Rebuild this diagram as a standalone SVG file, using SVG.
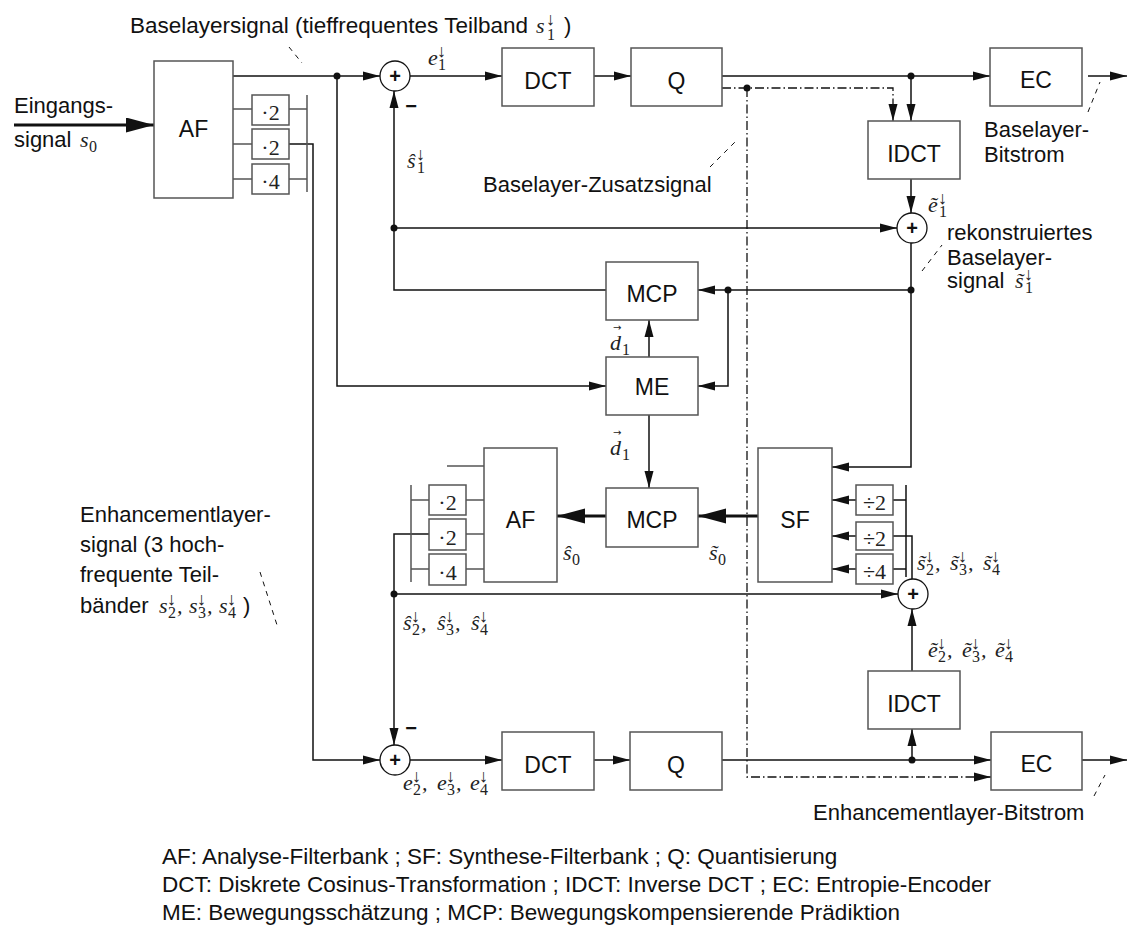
<svg xmlns="http://www.w3.org/2000/svg" width="1128" height="931" viewBox="0 0 1128 931">
<defs>
<style>
.t{font-family:"Liberation Sans",Arial,sans-serif;font-size:22px;fill:#111}
.b{font-family:"Liberation Sans",Arial,sans-serif;font-size:23px;fill:#111;text-anchor:middle}
.lg{font-family:"Liberation Sans",Arial,sans-serif;font-size:22.5px;fill:#111}
.mi{font-family:"Liberation Serif","Times New Roman",serif;font-style:italic;font-size:22px;fill:#222}
.sb{font-family:"Liberation Serif","Times New Roman",serif;font-size:16px;fill:#222}
.ar{font-family:"Liberation Serif","DejaVu Serif",serif;font-size:18px;fill:#222}
.va{font-family:"DejaVu Sans",sans-serif;font-size:10px;fill:#222}
.sm{font-family:"Liberation Serif","Times New Roman",serif;font-size:22px;fill:#222;text-anchor:middle}
.bx{fill:#fff;stroke:#555;stroke-width:1.5}
.sx{fill:#fff;stroke:#111;stroke-width:1.3}
.c{fill:none;stroke:#111;stroke-width:1.5}
.k{fill:none;stroke:#111;stroke-width:3}
.g{fill:none;stroke:#555;stroke-width:1.5}
.dd{fill:none;stroke:#111;stroke-width:1.3;stroke-dasharray:9 3 1.5 3}
.ld{fill:none;stroke:#111;stroke-width:1;stroke-dasharray:5 5}
.dot{fill:#111}
.pl{font-family:"Liberation Sans",Arial,sans-serif;font-size:20px;font-weight:bold;text-anchor:middle;fill:#111}
</style>
<marker id="a" markerUnits="userSpaceOnUse" markerWidth="18" markerHeight="10" refX="17" refY="5" orient="auto"><path d="M0,0.5 L17,5 L0,9.5 z" fill="#111"/></marker>
<marker id="A" markerUnits="userSpaceOnUse" markerWidth="30" markerHeight="16" refX="28" refY="7.5" orient="auto"><path d="M0,0 L28,7.5 L0,15 z" fill="#111"/></marker>
</defs>
<rect width="1128" height="931" fill="#fff"/>

<g id="connectors">
<path class="k" d="M14,125 H154" marker-end="url(#A)"/>
<path class="c" d="M233,76 H380" marker-end="url(#a)"/>
<path class="c" d="M410,76 H502" marker-end="url(#a)"/>
<path class="c" d="M594,76 H631" marker-end="url(#a)"/>
<path class="c" d="M722,76 H990" marker-end="url(#a)"/>
<path class="c" d="M1088,76 H1127" marker-end="url(#a)"/>
<path class="c" d="M911,76 V121" marker-end="url(#a)"/>
<path class="dd" d="M722,88 H893 V121" marker-end="url(#a)"/>
<path class="dd" d="M747,88 V777 H991" marker-end="url(#a)"/>
<path class="c" d="M911,179 V213" marker-end="url(#a)"/>
<path class="c" d="M911,243 V467 H832" marker-end="url(#a)"/>
<path class="c" d="M911,290 H698" marker-end="url(#a)"/>
<path class="c" d="M728,290 V386 H698" marker-end="url(#a)"/>
<path class="c" d="M337,76 V386 H606" marker-end="url(#a)"/>
<path class="c" d="M606,290 H394 V91" marker-end="url(#a)"/>
<path class="c" d="M394,228 H897" marker-end="url(#a)"/>
<path class="c" d="M649,357 V320" marker-end="url(#a)"/>
<path class="c" d="M649,415 V488" marker-end="url(#a)"/>
<path class="k" d="M606,516 H557" marker-end="url(#A)"/>
<path class="k" d="M758,516 H698" marker-end="url(#A)"/>
<path class="c" d="M856,500 H832" marker-end="url(#a)"/>
<path class="c" d="M856,536 H832" marker-end="url(#a)"/>
<path class="c" d="M856,569 H832" marker-end="url(#a)"/>
<path class="c" d="M893,500 H906 M893,569 H906 M906,485 V577"/>
<path class="c" d="M893,536 H912 V579"/>
<path class="c" d="M394,594 H898" marker-end="url(#a)"/>
<path class="c" d="M912,671 V609" marker-end="url(#a)"/>
<path class="c" d="M912,760 V729" marker-end="url(#a)"/>
<path class="c" d="M722,760 H991" marker-end="url(#a)"/>
<path class="c" d="M1082,760 H1127" marker-end="url(#a)"/>
<path class="c" d="M594,760 H630" marker-end="url(#a)"/>
<path class="c" d="M410,760 H502" marker-end="url(#a)"/>
<path class="c" d="M289,144 H313 V760 H380" marker-end="url(#a)"/>
<path class="c" d="M394,594 V745" marker-end="url(#a)"/>
<path class="c" d="M394,594 V534 H429"/>
<path class="g" d="M447,466 H484"/>
<path class="g" d="M233,109 H252 M233,144 H252 M233,179 H252 M289,109 H307 M289,179 H307 M307,95 V192"/>
<path class="g" d="M466,500 H484 M466,534 H484 M466,569 H484 M411,500 H429 M411,569 H429 M411,485 V582"/>
<circle class="dot" cx="337" cy="76" r="3.5"/>
<circle class="dot" cx="911" cy="76" r="3.5"/>
<circle class="dot" cx="747" cy="88" r="3.5"/>
<circle class="dot" cx="394" cy="228" r="3.5"/>
<circle class="dot" cx="911" cy="290" r="3.5"/>
<circle class="dot" cx="728" cy="290" r="3.5"/>
<circle class="dot" cx="394" cy="594" r="3.5"/>
<circle class="dot" cx="912" cy="760" r="3.5"/>
<path class="ld" d="M289,47 L302,63"/>
<path class="ld" d="M710,167 L738,139"/>
<path class="ld" d="M1088,112 L1100,82"/>
<path class="ld" d="M922,271 L942,245"/>
<path class="ld" d="M260,572 L277,625"/>
<path class="ld" d="M1094,796 L1105,775"/>
</g>

<g id="AF1"><rect class="bx" x="154" y="61" width="79" height="137"/><text class="b" x="193.5" y="137">AF</text></g>
<g id="AF1-m1"><rect class="bx" x="252" y="95" width="37" height="30"/><text class="sm" x="270.5" y="120">·2</text></g>
<g id="AF1-m2"><rect class="bx" x="252" y="129" width="37" height="30"/><text class="sm" x="270.5" y="155">·2</text></g>
<g id="AF1-m3"><rect class="bx" x="252" y="164" width="37" height="30"/><text class="sm" x="270.5" y="189">·4</text></g>
<g id="SUM1"><circle class="sx" cx="395" cy="76" r="15"/><text class="pl" x="395" y="83">+</text></g>
<g id="DCT1"><rect class="bx" x="502" y="48" width="92" height="58"/><text class="b" x="548" y="89">DCT</text></g>
<g id="Q1"><rect class="bx" x="631" y="48" width="91" height="58"/><text class="b" x="676.5" y="89">Q</text></g>
<g id="EC1"><rect class="bx" x="990" y="48" width="92" height="58"/><text class="b" x="1036" y="88">EC</text></g>
<g id="IDCT1"><rect class="bx" x="868" y="121" width="92" height="58"/><text class="b" x="914" y="162">IDCT</text></g>
<g id="SUM2"><circle class="sx" cx="912" cy="228" r="15"/><text class="pl" x="912" y="235">+</text></g>
<g id="MCP1"><rect class="bx" x="606" y="262" width="92" height="58"/><text class="b" x="652" y="302">MCP</text></g>
<g id="ME"><rect class="bx" x="606" y="357" width="92" height="58"/><text class="b" x="652" y="395">ME</text></g>
<g id="AF2"><rect class="bx" x="484" y="448" width="73" height="134"/><text class="b" x="520.5" y="528">AF</text></g>
<g id="AF2-m1"><rect class="bx" x="429" y="485" width="37" height="30"/><text class="sm" x="447.5" y="510">·2</text></g>
<g id="AF2-m2"><rect class="bx" x="429" y="519" width="37" height="31"/><text class="sm" x="447.5" y="545">·2</text></g>
<g id="AF2-m3"><rect class="bx" x="429" y="554" width="37" height="31"/><text class="sm" x="447.5" y="580">·4</text></g>
<g id="MCP2"><rect class="bx" x="606" y="488" width="92" height="59"/><text class="b" x="652" y="528">MCP</text></g>
<g id="SF"><rect class="bx" x="758" y="448" width="74" height="134"/><text class="b" x="795" y="528">SF</text></g>
<g id="SF-d1"><rect class="bx" x="856" y="485" width="37" height="30"/><text class="sm" x="874.5" y="510">÷2</text></g>
<g id="SF-d2"><rect class="bx" x="856" y="522" width="37" height="28"/><text class="sm" x="874.5" y="546">÷2</text></g>
<g id="SF-d3"><rect class="bx" x="856" y="554" width="37" height="30"/><text class="sm" x="874.5" y="579">÷4</text></g>
<g id="SUM3"><circle class="sx" cx="913" cy="594" r="15"/><text class="pl" x="913" y="601">+</text></g>
<g id="IDCT2"><rect class="bx" x="868" y="671" width="92" height="58"/><text class="b" x="914" y="712">IDCT</text></g>
<g id="SUM4"><circle class="sx" cx="395" cy="760" r="15"/><text class="pl" x="395" y="767">+</text></g>
<g id="DCT2"><rect class="bx" x="502" y="732" width="92" height="58"/><text class="b" x="548" y="773">DCT</text></g>
<g id="Q2"><rect class="bx" x="630" y="732" width="92" height="58"/><text class="b" x="676" y="773">Q</text></g>
<g id="EC2"><rect class="bx" x="991" y="732" width="91" height="58"/><text class="b" x="1036.5" y="772">EC</text></g>

<g id="labels">
<text class="t" x="130" y="33" textLength="398" lengthAdjust="spacingAndGlyphs">Baselayersignal (tieffrequentes Teilband</text>
<text class="mi" x="536" y="33">s</text><text class="sb" x="547" y="40">1</text><text class="ar" x="546" y="25">↓</text><text class="t" x="564" y="33">)</text>
<text class="t" x="14" y="113">Eingangs-</text>
<text class="t" x="14" y="147">signal</text><text class="mi" x="80" y="147">s</text><text class="sb" x="89" y="152">0</text>
<text class="mi" x="428" y="65">e</text><text class="sb" x="438" y="70">1</text><text class="ar" x="437" y="57">↓</text>
<text class="pl" x="411" y="113">−</text>
<text class="mi" x="407" y="168">ŝ</text><text class="sb" x="417" y="173">1</text><text class="ar" x="416" y="160">↓</text>
<text class="t" x="483" y="192">Baselayer-Zusatzsignal</text>
<text class="t" x="984" y="137">Baselayer-</text>
<text class="t" x="984" y="162">Bitstrom</text>
<text class="mi" x="928" y="212">ẽ</text><text class="sb" x="939" y="217">1</text><text class="ar" x="938" y="204">↓</text>
<text class="t" x="947" y="240">rekonstruiertes</text>
<text class="t" x="947" y="265">Baselayer-</text>
<text class="t" x="947" y="288">signal</text><text class="mi" x="1015" y="288">s</text><text class="mi" x="1016" y="288">˜</text><text class="sb" x="1025" y="293">1</text><text class="ar" x="1024" y="280">↓</text>
<text class="mi" x="610" y="350">d</text><text class="va" x="613" y="331">→</text><text class="sb" x="622" y="355">1</text>
<text class="mi" x="610" y="455">d</text><text class="va" x="613" y="436">→</text><text class="sb" x="622" y="460">1</text>
<text class="mi" x="563" y="560">ŝ</text><text class="sb" x="572" y="565">0</text>
<text class="mi" x="709" y="560">s</text><text class="mi" x="710" y="560">˜</text><text class="sb" x="718" y="565">0</text>
<text class="mi" x="917" y="570">s</text><text class="mi" x="918" y="570">˜</text><text class="sb" x="926" y="575">2</text><text class="ar" x="925" y="562">↓</text><text class="mi" x="935" y="570">,</text>
<text class="mi" x="950" y="570">s</text><text class="mi" x="951" y="570">˜</text><text class="sb" x="959" y="575">3</text><text class="ar" x="958" y="562">↓</text><text class="mi" x="968" y="570">,</text>
<text class="mi" x="983" y="570">s</text><text class="mi" x="984" y="570">˜</text><text class="sb" x="992" y="575">4</text><text class="ar" x="991" y="562">↓</text>
<text class="mi" x="928" y="657">ẽ</text><text class="sb" x="938" y="662">2</text><text class="ar" x="937" y="649">↓</text><text class="mi" x="947" y="657">,</text>
<text class="mi" x="962" y="657">ẽ</text><text class="sb" x="972" y="662">3</text><text class="ar" x="971" y="649">↓</text><text class="mi" x="981" y="657">,</text>
<text class="mi" x="995" y="657">ẽ</text><text class="sb" x="1005" y="662">4</text><text class="ar" x="1004" y="649">↓</text>
<text class="mi" x="403" y="630">ŝ</text><text class="sb" x="412" y="635">2</text><text class="ar" x="411" y="622">↓</text><text class="mi" x="421" y="630">,</text>
<text class="mi" x="437" y="630">ŝ</text><text class="sb" x="446" y="635">3</text><text class="ar" x="445" y="622">↓</text><text class="mi" x="455" y="630">,</text>
<text class="mi" x="471" y="630">ŝ</text><text class="sb" x="480" y="635">4</text><text class="ar" x="479" y="622">↓</text>
<text class="t" x="80" y="522">Enhancementlayer-</text>
<text class="t" x="80" y="552">signal (3 hoch-</text>
<text class="t" x="80" y="582">frequente Teil-</text>
<text class="t" x="80" y="613">bänder</text>
<text class="mi" x="159" y="613">s</text><text class="sb" x="168" y="618">2</text><text class="ar" x="167" y="605">↓</text><text class="mi" x="177" y="613">,</text>
<text class="mi" x="189" y="613">s</text><text class="sb" x="198" y="618">3</text><text class="ar" x="197" y="605">↓</text><text class="mi" x="207" y="613">,</text>
<text class="mi" x="219" y="613">s</text><text class="sb" x="228" y="618">4</text><text class="ar" x="227" y="605">↓</text><text class="t" x="243" y="613">)</text>
<text class="pl" x="411" y="735">−</text>
<text class="mi" x="403" y="790">e</text><text class="sb" x="413" y="795">2</text><text class="ar" x="412" y="782">↓</text><text class="mi" x="422" y="790">,</text>
<text class="mi" x="437" y="790">e</text><text class="sb" x="447" y="795">3</text><text class="ar" x="446" y="782">↓</text><text class="mi" x="456" y="790">,</text>
<text class="mi" x="470" y="790">e</text><text class="sb" x="480" y="795">4</text><text class="ar" x="479" y="782">↓</text>
<text class="t" x="813" y="820">Enhancementlayer-Bitstrom</text>
<text class="lg" x="162" y="864">AF: Analyse-Filterbank ; SF: Synthese-Filterbank ; Q: Quantisierung</text>
<text class="lg" x="162" y="892">DCT: Diskrete Cosinus-Transformation ; IDCT: Inverse DCT ; EC: Entropie-Encoder</text>
<text class="lg" x="162" y="920">ME: Bewegungsschätzung ; MCP: Bewegungskompensierende Prädiktion</text>
</g>
</svg>
